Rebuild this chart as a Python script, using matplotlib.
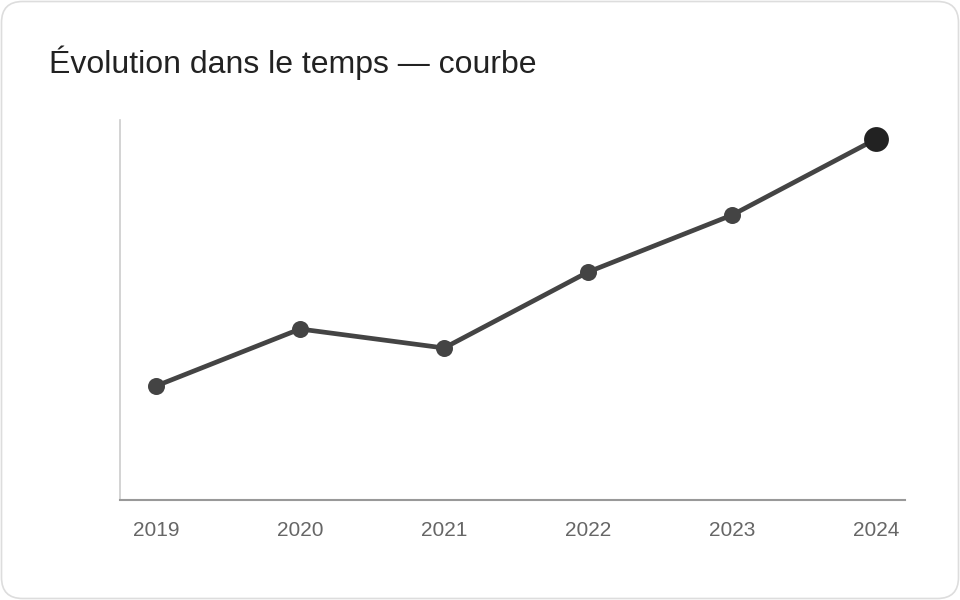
import matplotlib.pyplot as plt
from matplotlib.patches import FancyBboxPatch

years = ["2019", "2020", "2021", "2022", "2023", "2024"]
values = [30, 45, 40, 60, 75, 95]

plt.rcParams["font.family"] = ["Liberation Sans", "DejaVu Sans"]

fig = plt.figure(figsize=(9.6, 6), dpi=100)

# card background with rounded border
card = FancyBboxPatch((1.5 / 960, 1.5 / 600), 957 / 960, 597 / 600,
                      boxstyle="round,pad=0,rounding_size=0.022",
                      transform=fig.transFigure, facecolor="white",
                      edgecolor="#dddddd", linewidth=1.2, mutation_aspect=1.6,
                      zorder=-5)
fig.patches.append(card)

fig.text(49 / 960, 1 - 73 / 600, "Évolution dans le temps — courbe",
         fontsize=23, color="#222222", ha="left", va="baseline")

ax = fig.add_axes([120 / 960, 1 - 500 / 600, 785 / 960, 380 / 600])
ax.set_facecolor("none")
ax.set_zorder(2)

x = list(range(len(years)))
ax.plot(x, values, color="#444444", linewidth=3.4, zorder=2)
ax.scatter(x[:-1], values[:-1], s=150, color="#444444", zorder=3, linewidths=0)
ax.scatter(x[-1:], values[-1:], s=320, color="#222222", zorder=4, linewidths=0,
           clip_on=False)

ax.set_xlim(-0.25, 5.2)
ax.set_ylim(0, 100)
ax.set_xticks(x)
ax.set_xticklabels(years)
ax.set_yticks([])
ax.tick_params(axis="x", length=0, pad=15, labelsize=15, labelcolor="#666666")

for side in ["top", "right"]:
    ax.spines[side].set_visible(False)
ax.spines["left"].set_color("#cccccc")
ax.spines["left"].set_linewidth(1.2)
ax.spines["bottom"].set_color("#999999")
ax.spines["bottom"].set_linewidth(1.5)

fig.savefig("out.png", dpi=100)
